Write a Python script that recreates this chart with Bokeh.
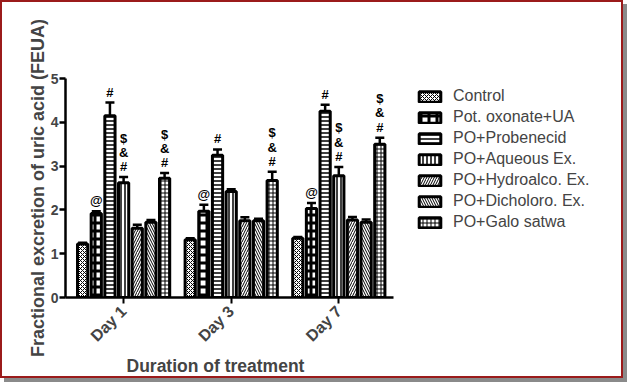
from bokeh.plotting import figure
from bokeh.models import (ColumnDataSource, Range1d, Legend, LegendItem, Whisker,
                          FixedTicker, TeeHead, Title)
from bokeh.embed import file_html
from bokeh.resources import INLINE
from bokeh.core.properties import value

days = ["Day 1", "Day 3", "Day 7"]
groups = ["Control", "Pot. oxonate+UA", "PO+Probenecid", "PO+Aqueous Ex.",
          "PO+Hydroalco. Ex.", "PO+Dicholoro. Ex.", "PO+Galo satwa"]
means = {
    "Control":           [1.22, 1.32, 1.35],
    "Pot. oxonate+UA":   [1.92, 1.97, 2.03],
    "PO+Probenecid":     [4.15, 3.25, 4.25],
    "PO+Aqueous Ex.":    [2.62, 2.42, 2.78],
    "PO+Hydroalco. Ex.": [1.58, 1.75, 1.77],
    "PO+Dicholoro. Ex.": [1.72, 1.75, 1.72],
    "PO+Galo satwa":     [2.72, 2.67, 3.50],
}
errors = {
    "Control":           [0.03, 0.03, 0.03],
    "Pot. oxonate+UA":   [0.05, 0.15, 0.13],
    "PO+Probenecid":     [0.30, 0.13, 0.15],
    "PO+Aqueous Ex.":    [0.13, 0.05, 0.20],
    "PO+Hydroalco. Ex.": [0.08, 0.08, 0.07],
    "PO+Dicholoro. Ex.": [0.05, 0.05, 0.06],
    "PO+Galo satwa":     [0.12, 0.20, 0.15],
}
marks = {
    "Control":           ["", "", ""],
    "Pot. oxonate+UA":   ["@", "@", "@"],
    "PO+Probenecid":     ["#", "#", "#"],
    "PO+Aqueous Ex.":    ["$\n&\n#", "", "$\n&\n#"],
    "PO+Hydroalco. Ex.": ["", "", ""],
    "PO+Dicholoro. Ex.": ["", "", ""],
    "PO+Galo satwa":     ["$\n&\n#", "$\n&\n#", "$\n&\n#"],
}
hatches = ["diagonal_cross", "cross", "horizontal_line", "vertical_line",
           "right_diagonal_line", "left_diagonal_line", "cross"]
hatch_scales = [4, 8, 4, 4, 5, 5, 4]
hatch_weights = [1, 3, 1.5, 1.5, 1, 1, 1]

FONT = "Liberation Sans"
day_idx = list(range(len(days)))

p = figure(x_range=Range1d(-0.54, 4.46), y_range=Range1d(0, 5),
           width=623, height=378, output_backend="svg",
           toolbar_location=None, min_border_left=63, min_border_top=76,
           min_border_bottom=83, min_border_right=22)
p.styles = {"border": "2px solid #9b1b1b", "box-shadow": "4px 4px 0 #8a8a8a"}
p.outline_line_color = None
p.xgrid.grid_line_color = None
p.ygrid.grid_line_color = None

slot = 0.127
width = 0.095
items = []
for i, g in enumerate(groups):
    off = (i - 3) * slot
    xs = [k + off for k in day_idx]
    src = ColumnDataSource(dict(x=xs, top=means[g],
                                upper=[m + e for m, e in zip(means[g], errors[g])],
                                mark=marks[g]))
    r = p.vbar(x="x", top="top", width=width, source=src,
               fill_color="white", line_color="black", line_width=3,
               hatch_pattern=hatches[i], hatch_color="black",
               hatch_scale=hatch_scales[i], hatch_weight=hatch_weights[i])
    w = Whisker(base="x", upper="upper", lower="top",
                source=src, line_color="black", line_width=2.5,
                upper_head=TeeHead(size=9, line_width=2.5, line_color="black"),
                lower_head=None)
    p.add_layout(w)
    p.text(x="x", y="upper", text="mark", source=src,
           text_align="center", text_baseline="bottom", y_offset=-3,
           text_font=value(FONT), text_font_size="13px", text_font_style="bold",
           text_line_height=0.95, text_color="black")
    items.append(LegendItem(label=g, renderers=[r]))

legend = Legend(items=items, location=(351, 66), label_text_font=FONT,
                label_text_font_size="16px", glyph_width=27, glyph_height=13,
                label_height=13, label_standoff=10, spacing=3, padding=0, margin=0,
                border_line_color=None, background_fill_alpha=0)
p.add_layout(legend, "center")

p.yaxis.ticker = FixedTicker(ticks=[0, 1, 2, 3, 4, 5])
p.yaxis.minor_tick_line_color = None
p.yaxis.axis_line_width = 2.5
p.yaxis.major_tick_line_width = 2.5
p.yaxis.major_tick_out = 6
p.yaxis.major_tick_in = 0
p.yaxis.major_label_standoff = 1
p.yaxis.major_label_text_font = FONT
p.yaxis.major_label_text_font_size = "14px"
p.yaxis.major_label_text_font_style = "bold"
p.yaxis.axis_label = "Fractional excretion of uric acid (FEUA)"
p.yaxis.axis_label_text_font = FONT
p.yaxis.axis_label_text_font_size = "18px"
p.yaxis.axis_label_text_font_style = "bold"
p.yaxis.axis_label_standoff = 0

p.xaxis.ticker = FixedTicker(ticks=day_idx)
p.xaxis.major_label_overrides = {k: d for k, d in zip(day_idx, days)}
p.xaxis.bounds = (-0.54, 2.51)
p.xaxis.minor_tick_line_color = None
p.xaxis.axis_line_width = 2.5
p.xaxis.major_tick_line_width = 2
p.xaxis.major_tick_out = 6
p.xaxis.major_tick_in = 0
p.xaxis.major_label_orientation = 0.785
p.xaxis.major_label_text_font = FONT
p.xaxis.major_label_text_font_size = "16px"
p.xaxis.major_label_text_font_style = "bold"

xtitle = Title(text="Duration of treatment", align="left", offset=61,
               text_font=FONT, text_font_size="17.5px", text_font_style="bold",
               standoff=0)
p.add_layout(xtitle, "below")

open("out.html", "w").write(file_html(p, INLINE))
